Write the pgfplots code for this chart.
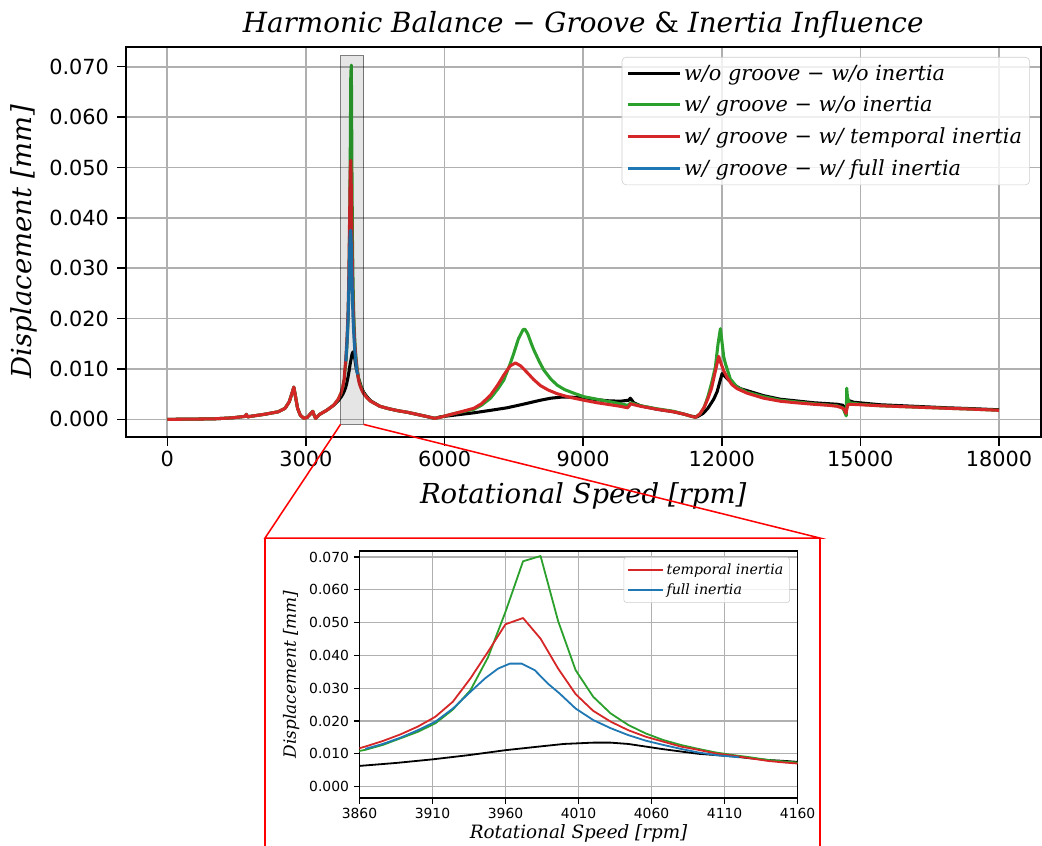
\documentclass[border=0pt]{standalone}
\usepackage{pgfplots}
\usepackage{pgfplotstable}
\pgfplotsset{compat=1.18}
\usepackage{fontspec}
\setmainfont{DejaVu Sans}
\newfontfamily\mt{DejaVu Serif}
\definecolor{cblack}{HTML}{000000}
\definecolor{cgreen}{HTML}{2CA02C}
\definecolor{cred}{HTML}{D62728}
\definecolor{cblue}{HTML}{1F77B4}
\definecolor{gridc}{HTML}{B0B0B0}

\pgfplotstableread{
x y
0 0
500 0.00005
1000 0.0001
1400 0.0003
1690 0.0006
1710 0.0010
1740 0.0005
1800 0.0006
2100 0.0010
2400 0.0015
2550 0.0022
2640 0.0035
2700 0.0052
2739 0.0064
2770 0.0048
2820 0.0022
2880 0.0008
2960 0.0002
3030 0.0004
3100 0.0011
3150 0.0016
3175 0.0009
3210 0.0002
3300 0.0010
3450 0.0018
3600 0.0028
3700 0.0037
3760 0.0044
3800 0.0050
3830 0.0056
3860 0.0063
3885 0.0072
3910 0.0083
3935 0.0096
3960 0.0111
3985 0.0123
4000 0.0130
4010 0.0132
4020 0.0134
4032 0.0134
4044 0.0130
4056 0.0122
4068 0.0114
4080 0.0107
4092 0.0100
4104 0.0096
4116 0.0092
4128 0.0086
4140 0.0081
4152 0.0078
4164 0.0074
4200 0.0064
4250 0.0054
4320 0.0045
4400 0.0037
4600 0.0026
4800 0.0021
5000 0.0017
5200 0.0014
5400 0.0010
5600 0.0006
5790 0.0002
5906 0.0005
6634 0.0013
7000 0.0018
7355 0.0023
7700 0.0030
8076 0.0038
8300 0.0042
8509 0.0044
8750 0.0044
9013 0.0042
9519 0.0037
9800 0.0036
9988 0.0038
10020 0.0042
10040 0.0040
10095 0.0033
10240 0.0027
10600 0.0020
10960 0.0015
11200 0.0010
11350 0.0006
11466 0.0005
11600 0.0012
11700 0.0022
11826 0.0040
11900 0.0055
11960 0.0075
12008 0.0091
12040 0.0088
12150 0.0078
12259 0.0069
12403 0.0061
12548 0.0057
12908 0.0047
13268 0.0040
13989 0.0033
14495 0.0030
14620 0.0028
14680 0.0022
14700 0.0020
14730 0.0036
14760 0.0037
14855 0.0034
15432 0.0029
16153 0.0026
16875 0.0023
17500 0.0021
18000 0.0019
}\blackdata

\pgfplotstableread{
x y
0 0
500 0.00005
1000 0.0001
1400 0.0003
1690 0.0006
1710 0.0010
1740 0.0005
1800 0.0006
2100 0.0010
2400 0.0015
2550 0.0022
2640 0.0035
2700 0.0052
2739 0.0064
2770 0.0048
2820 0.0022
2880 0.0008
2960 0.0002
3030 0.0004
3100 0.0011
3150 0.0016
3175 0.0009
3210 0.0002
3300 0.0010
3450 0.0018
3600 0.0028
3700 0.0040
3760 0.0052
3800 0.0065
3830 0.0080
3840 0.0090
3852 0.0102
3864 0.0112
3876 0.0127
3888 0.0147
3900 0.0167
3912 0.0193
3924 0.0235
3936 0.0294
3948 0.0394
3960 0.0533
3972 0.0687
3984 0.0703
3996 0.0505
4008 0.0355
4020 0.0274
4032 0.0223
4044 0.0188
4056 0.0162
4068 0.0142
4080 0.0127
4092 0.0115
4104 0.0104
4116 0.0096
4128 0.0089
4140 0.0081
4152 0.0076
4164 0.0072
4200 0.0062
4250 0.0052
4320 0.0043
4400 0.0036
4600 0.0026
4800 0.0021
5000 0.0017
5200 0.0014
5400 0.0010
5600 0.0006
5790 0.0002
5900 0.0004
6058 0.0008
6274 0.0013
6634 0.0020
6800 0.0028
6995 0.0042
7150 0.0060
7283 0.0078
7420 0.0110
7499 0.0131
7600 0.0160
7700 0.0178
7740 0.0179
7800 0.0170
7880 0.0150
7932 0.0138
8050 0.0115
8148 0.0098
8300 0.0080
8437 0.0068
8600 0.0059
8797 0.0052
9013 0.0045
9300 0.0040
9519 0.0036
9800 0.0031
9960 0.0028
10000 0.0030
10023 0.0033
10060 0.0032
10240 0.0027
10600 0.0021
10960 0.0016
11200 0.0010
11350 0.0006
11430 0.0004
11530 0.0011
11620 0.0024
11700 0.0045
11780 0.0072
11862 0.0104
11920 0.0150
11971 0.0180
12010 0.0150
12043 0.0124
12078 0.0111
12187 0.0080
12332 0.0064
12548 0.0054
12908 0.0045
13268 0.0038
13989 0.0031
14495 0.0027
14620 0.0023
14680 0.0010
14695 0.0007
14705 0.0062
14720 0.0045
14760 0.0033
15000 0.0030
15432 0.0027
16000 0.0025
16875 0.0022
17500 0.0020
18000 0.0018
}\greendata

\pgfplotstableread{
x y
0 0
500 0.00005
1000 0.0001
1400 0.0003
1690 0.0006
1710 0.0010
1740 0.0005
1800 0.0006
2100 0.0010
2400 0.0015
2550 0.0022
2640 0.0035
2700 0.0052
2739 0.0064
2770 0.0048
2820 0.0022
2880 0.0008
2960 0.0002
3030 0.0004
3100 0.0011
3150 0.0016
3175 0.0009
3210 0.0002
3300 0.0010
3450 0.0018
3600 0.0028
3700 0.0040
3760 0.0052
3800 0.0065
3830 0.0080
3840 0.0095
3852 0.0107
3864 0.0122
3876 0.0139
3888 0.0159
3900 0.0183
3912 0.0213
3924 0.0259
3936 0.0330
3948 0.0411
3960 0.0495
3972 0.0514
3984 0.0451
3996 0.0360
4008 0.0282
4020 0.0231
4032 0.0198
4044 0.0172
4056 0.0152
4068 0.0137
4080 0.0122
4092 0.0112
4104 0.0101
4116 0.0094
4128 0.0086
4140 0.0078
4152 0.0073
4164 0.0069
4200 0.0060
4250 0.0051
4320 0.0043
4400 0.0036
4600 0.0026
4800 0.0021
5000 0.0017
5200 0.0014
5400 0.0010
5600 0.0006
5790 0.0002
5900 0.0004
6058 0.0008
6274 0.0013
6634 0.0022
6800 0.0031
6995 0.0048
7150 0.0068
7283 0.0088
7420 0.0106
7535 0.0112
7650 0.0106
7788 0.0093
7930 0.0079
8076 0.0067
8250 0.0058
8437 0.0051
8700 0.0044
9013 0.0038
9300 0.0033
9519 0.0030
9800 0.0026
9960 0.0023
10000 0.0027
10023 0.0031
10060 0.0030
10240 0.0026
10600 0.0020
10960 0.0015
11200 0.0010
11350 0.0006
11430 0.0004
11530 0.0011
11620 0.0024
11700 0.0041
11780 0.0062
11860 0.0095
11934 0.0125
11980 0.0112
12040 0.0097
12116 0.0083
12220 0.0069
12332 0.0061
12548 0.0052
12908 0.0042
13268 0.0036
13600 0.0033
13989 0.0030
14300 0.0028
14495 0.0026
14600 0.0023
14650 0.0020
14690 0.0012
14710 0.0022
14730 0.0029
14783 0.0030
15000 0.0029
15432 0.0027
16000 0.0025
16875 0.0022
17500 0.0020
18000 0.0018
}\reddata

\pgfplotstableread{
x y
3864 0.0115
3876 0.0130
3888 0.0149
3900 0.0172
3912 0.0198
3924 0.0238
3936 0.0289
3946 0.0330
3955 0.0360
3963 0.0375
3971 0.0375
3980 0.0355
3989 0.0314
3997 0.0284
4008 0.0238
4020 0.0203
4032 0.0178
4044 0.0157
4056 0.0140
4068 0.0127
4080 0.0115
4092 0.0104
4104 0.0096
4116 0.0091
4120 0.0089
}\bluedata

\begin{document}
\begin{tikzpicture}
\useasboundingbox (0pt,0pt) rectangle (750.24pt,-609.12pt);

% ---------------- main axis ----------------
\begin{axis}[
  at={(90.5pt,-314.9pt)}, anchor=south west,
  scale only axis, width=658.7pt, height=281.3pt,
  xmin=-900, xmax=18900, ymin=-0.00357, ymax=0.07397,
  xtick={0,3000,6000,9000,12000,15000,18000},
  ytick={0,0.01,0.02,0.03,0.04,0.05,0.06,0.07},
  scaled x ticks=false, scaled y ticks=false,
  xticklabel style={/pgf/number format/set thousands separator={}},
  yticklabel style={xshift=-2.5pt, /pgf/number format/.cd, fixed, fixed zerofill, precision=3},
  /pgf/number format/assume math mode=true,
  tick label style={font=\fontsize{15}{17}\selectfont, black},
  tick align=outside, xtick pos=left, ytick pos=left,
  major tick length=6pt,
  tick style={black, line width=1.1pt},
  axis line style={line width=1.4pt},
  grid=major, grid style={gridc, line width=1.2pt},
  legend cell align=left,
  legend style={at={(0.9884,0.9736)}, anchor=north east,
    draw=black!20, rounded corners=3pt, fill=white, fill opacity=0.8, text opacity=1,
    font=\mt\itshape\fontsize{15}{18}\selectfont, inner sep=3.5pt, row sep=6pt},
  legend image code/.code={\draw[#1] (0pt,0pt) -- (32pt,0pt);
    \path (0pt,0pt) -- (37pt,0pt);},
  every axis plot/.append style={line width=2.2pt, line join=round},
]
\addplot[cblack] table {\blackdata};
\addlegendentry{w/o groove − w/o inertia}
\addplot[cgreen] table {\greendata};
\addlegendentry{w/ groove − w/o inertia}
\addplot[cred] table {\reddata};
\addlegendentry{w/ groove − w/ temporal inertia}
\addplot[cblue] table {\bluedata};
\addlegendentry{w/ groove − w/ full inertia}
\draw[draw=black, draw opacity=0.5, fill=black, fill opacity=0.1, line width=1.1pt]
  (axis cs:3750,-0.001) rectangle (axis cs:4250,0.0722);
\coordinate (rbl) at (axis cs:3750,-0.001);
\coordinate (rbr) at (axis cs:4250,-0.001);
\end{axis}

% ---------------- inset axis ----------------
\begin{axis}[
  at={(258.8pt,-574.6pt)}, anchor=south west,
  scale only axis, width=315.5pt, height=177.8pt,
  xmin=3860, xmax=4160, ymin=-0.0035, ymax=0.0718,
  restrict x to domain=3800:4220,
  xtick={3860,3910,3960,4010,4060,4110,4160},
  ytick={0,0.01,0.02,0.03,0.04,0.05,0.06,0.07},
  scaled x ticks=false, scaled y ticks=false,
  xticklabel style={/pgf/number format/set thousands separator={}},
  yticklabel style={/pgf/number format/.cd, fixed, fixed zerofill, precision=3},
  /pgf/number format/assume math mode=true,
  tick label style={font=\fontsize{10}{12}\selectfont, black},
  tick align=outside, xtick pos=left, ytick pos=left,
  major tick length=4pt,
  tick style={black, line width=0.8pt},
  axis line style={line width=1pt},
  grid=major, grid style={gridc, line width=0.8pt},
  legend cell align=left,
  legend style={at={(0.9824,0.9757)}, anchor=north east,
    draw=black!20, rounded corners=2pt, fill=white, fill opacity=0.8, text opacity=1,
    font=\mt\itshape\fontsize{10.2}{12}\selectfont, inner sep=2.5pt, row sep=1pt},
  legend image code/.code={\draw[#1] (0pt,0pt) -- (21pt,0pt);
    \path (0pt,0pt) -- (25pt,0pt);},
  every axis plot/.append style={line width=1.3pt, line join=round},
]
\addplot[cblack, forget plot] table {\blackdata};
\addplot[cgreen, forget plot] table {\greendata};
\addplot[cred] table {\reddata};
\addlegendentry{temporal inertia}
\addplot[cblue] table {\bluedata};
\addlegendentry{full inertia}
\end{axis}

% ---------------- texts ----------------
\node[anchor=base, font=\mt\itshape\fontsize{20}{24}\selectfont] at (419.9pt,-23.3pt)
  {Harmonic Balance − Groove {\upshape\&} Inertia Influence};
\node[anchor=base, font=\mt\itshape\fontsize{19.8}{24}\selectfont] at (419.9pt,-362.2pt)
  {Rotational Speed [rpm]};
\node[anchor=base, rotate=90, font=\mt\itshape\fontsize{19.8}{24}\selectfont] at (22.8pt,-174pt)
  {Displacement [mm]};
\node[anchor=base, font=\mt\itshape\fontsize{13.2}{16}\selectfont] at (416.6pt,-603.4pt)
  {Rotational Speed [rpm]};
\node[anchor=base, rotate=90, font=\mt\itshape\fontsize{12.2}{14}\selectfont] at (213.1pt,-485.6pt)
  {Displacement [mm]};

% ---------------- connectors ----------------
\draw[red, line width=1.1pt] (rbl) -- (190.8pt,-387.4pt) -- (590.4pt,-387.4pt) -- (rbr);
\draw[red, line width=1.1pt] (190.8pt,-387.4pt) -- (190.8pt,-609.12pt);
\draw[red, line width=1.1pt] (590.4pt,-387.4pt) -- (590.4pt,-609.12pt);
\end{tikzpicture}
\end{document}
